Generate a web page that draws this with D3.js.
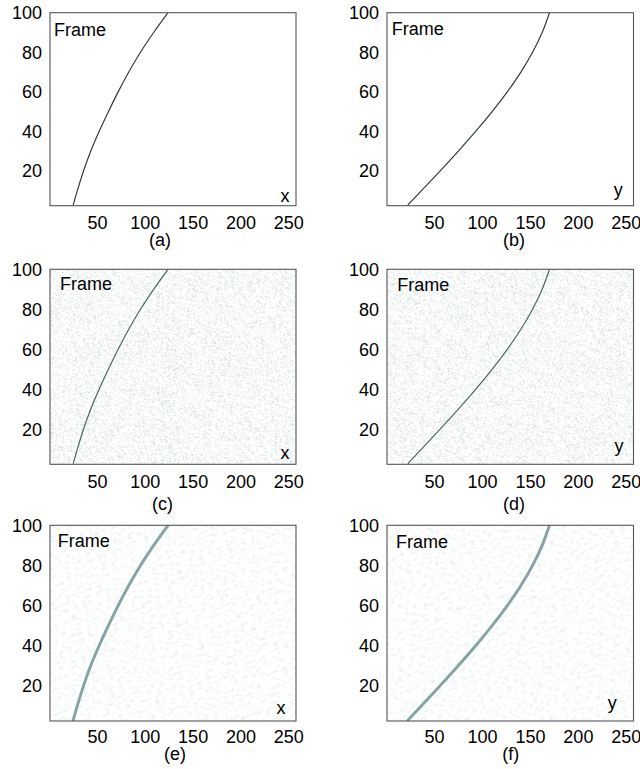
<!DOCTYPE html>
<html>
<head>
<meta charset="utf-8">
<script src="https://cdn.jsdelivr.net/npm/d3@7"></script>
<style>
  html, body { margin: 0; padding: 0; background: #fff; }
  svg { display: block; }
  text { font-family: "Liberation Sans", Arial, sans-serif; }
</style>
</head>
<body>
<svg id="chart" width="640" height="769"></svg>
<script>
// Tracked object position per frame (same track shown under three noise levels)
const frames = [3, 10, 20, 30, 40, 50, 60, 70, 80, 90, 100];
const trackX = [25.3, 29.5, 36, 43.5, 52.3, 62, 72.2, 83.3, 95.5, 109.3, 124.3];
const trackY = [23, 36.7, 56.2, 75.2, 93.4, 110.6, 126.4, 140.6, 152.8, 162.8, 170.4];

const xTicks = [50, 100, 150, 200, 250];
const yTicks = [20, 40, 60, 80, 100];
const xDomain = [1, 258];
const yDomain = [2.5, 100];

const panelCaptions = ["(a)", "(b)", "(c)", "(d)", "(e)", "(f)"];
const axisNames = ["x", "y", "x", "y", "x", "y"];
const yLabel = "Frame";
const rowStyles = ["clean", "grain", "soft"];

// Layout
const cols = [{ x0: 50, x1: 296 }, { x0: 387, x1: 633.5 }];
const rows = [
  { top: 12.7, bottom: 205.7, tickPad: 10.6 },
  { top: 269.3, bottom: 464.3, tickPad: 11.2 },
  { top: 525.3, bottom: 721, tickPad: 9.6 }
];
// caption centre / baseline, "Frame" left / baseline, axis-name centre / baseline
const panelText = [
  { capX: 160, capY: 246, frX: 54, frY: 35.7, nmX: 285, nmY: 202 },
  { capX: 514, capY: 246, frX: 391.7, frY: 35, nmX: 618.3, nmY: 196.3 },
  { capX: 162.5, capY: 510, frX: 60, frY: 290, nmX: 285, nmY: 458.7 },
  { capX: 514, capY: 510, frX: 397.3, frY: 291, nmX: 619, nmY: 452.3 },
  { capX: 175, capY: 759.5, frX: 57.7, frY: 547, nmX: 281, nmY: 713.7 },
  { capX: 510.7, capY: 759.5, frX: 396, frY: 547.7, nmX: 612.3, nmY: 709 }
];

const fontSize = 18;
const svg = d3.select("#chart");
const defs = svg.append("defs");

// Speckle textures for the noisy frames
function addGrain(id, freq, seed, rgb, gain, bias) {
  const f = defs.append("filter").attr("id", id)
    .attr("x", "0").attr("y", "0").attr("width", "1").attr("height", "1");
  f.append("feTurbulence")
    .attr("type", "fractalNoise")
    .attr("baseFrequency", freq)
    .attr("numOctaves", 2)
    .attr("seed", seed)
    .attr("result", "t");
  f.append("feColorMatrix").attr("in", "t").attr("type", "matrix")
    .attr("values",
      `0 0 0 0 ${rgb[0]}  0 0 0 0 ${rgb[1]}  0 0 0 0 ${rgb[2]}  ${gain} 0 0 0 ${bias}`);
}
addGrain("grain-0", "0.45 1.4", 4, [0.64, 0.71, 0.71], 3.2, -1.48);
addGrain("grain-1", "0.45 1.4", 9, [0.64, 0.71, 0.71], 3.2, -1.48);
addGrain("soft-0", "0.2 0.34", 2, [0.78, 0.85, 0.85], 2.6, -1.25);
addGrain("soft-1", "0.2 0.34", 7, [0.78, 0.85, 0.85], 2.6, -1.25);

const blur = defs.append("filter").attr("id", "trackBlur")
  .attr("x", "-20%").attr("y", "-20%").attr("width", "140%").attr("height", "140%");
blur.append("feGaussianBlur").attr("stdDeviation", 0.75);

const lineStyle = {
  clean: { stroke: "#2b3838", width: 1.15, filter: null },
  grain: { stroke: "#4a6664", width: 1.2, filter: null },
  soft:  { stroke: "#85a3a3", width: 2.9, filter: "url(#trackBlur)" }
};

panelCaptions.forEach((caption, i) => {
  const col = cols[i % 2];
  const rowIdx = Math.floor(i / 2);
  const row = rows[rowIdx];
  const style = rowStyles[rowIdx];
  const values = i % 2 === 0 ? trackX : trackY;
  const t = panelText[i];

  const x = d3.scaleLinear().domain(xDomain).range([col.x0, col.x1]);
  const y = d3.scaleLinear().domain(yDomain).range([row.bottom, row.top]);

  const g = svg.append("g").attr("class", "panel");

  const clipId = `clip-${i}`;
  defs.append("clipPath").attr("id", clipId)
    .append("rect")
    .attr("x", col.x0).attr("y", row.top)
    .attr("width", col.x1 - col.x0).attr("height", row.bottom - row.top);

  g.append("rect")
    .attr("x", col.x0).attr("y", row.top)
    .attr("width", col.x1 - col.x0).attr("height", row.bottom - row.top)
    .attr("fill", "#fff");

  // Background noise (streaks tilted by rotating the textured sheet)
  if (style !== "clean") {
    const cx = (col.x0 + col.x1) / 2, cy = (row.top + row.bottom) / 2;
    const half = 200;
    const fid = style === "grain" ? `grain-${i % 2}` : `soft-${i % 2}`;
    g.append("g").attr("clip-path", `url(#${clipId})`)
      .append("rect")
      .attr("x", cx - half).attr("y", cy - half)
      .attr("width", half * 2).attr("height", half * 2)
      .attr("transform", `rotate(${style === "grain" ? -40 : -20} ${cx} ${cy})`)
      .attr("filter", `url(#${fid})`);
  }

  // Track
  const pts = frames.map((f, k) => ({ f, v: values[k] }));
  const line = d3.line()
    .x(d => x(d.v))
    .y(d => y(d.f))
    .curve(d3.curveCatmullRom.alpha(0.5));
  const ls = lineStyle[style];
  const lg = g.append("g").attr("clip-path", `url(#${clipId})`);
  lg.append("path")
    .datum(pts)
    .attr("d", line)
    .attr("fill", "none")
    .attr("stroke", ls.stroke)
    .attr("stroke-width", ls.width)
    .attr("stroke-linecap", "round")
    .attr("filter", ls.filter);

  // Frame box
  g.append("rect")
    .attr("x", col.x0).attr("y", row.top)
    .attr("width", col.x1 - col.x0).attr("height", row.bottom - row.top)
    .attr("fill", "none")
    .attr("stroke", "#555")
    .attr("stroke-width", 1.1);

  // Axes
  const xAxis = g.append("g")
    .attr("transform", `translate(0,${row.bottom})`)
    .call(d3.axisBottom(x).tickValues(xTicks).tickSize(0).tickPadding(row.tickPad));
  const yAxis = g.append("g")
    .attr("transform", `translate(${col.x0},0)`)
    .call(d3.axisLeft(y).tickValues(yTicks).tickSize(0).tickPadding(8));
  [xAxis, yAxis].forEach(a => {
    a.select(".domain").remove();
    a.attr("font-family", null).attr("font-size", null);
    a.selectAll("text").attr("font-size", fontSize).attr("fill", "#000");
  });

  // Labels
  g.append("text").attr("x", t.frX).attr("y", t.frY)
    .attr("font-size", fontSize).attr("fill", "#000").text(yLabel);
  g.append("text").attr("x", t.nmX).attr("y", t.nmY)
    .attr("text-anchor", "middle")
    .attr("font-size", fontSize).attr("fill", "#000").text(axisNames[i]);
  g.append("text").attr("x", t.capX).attr("y", t.capY)
    .attr("text-anchor", "middle")
    .attr("font-size", fontSize).attr("fill", "#000").text(caption);
});
</script>
</body>
</html>
